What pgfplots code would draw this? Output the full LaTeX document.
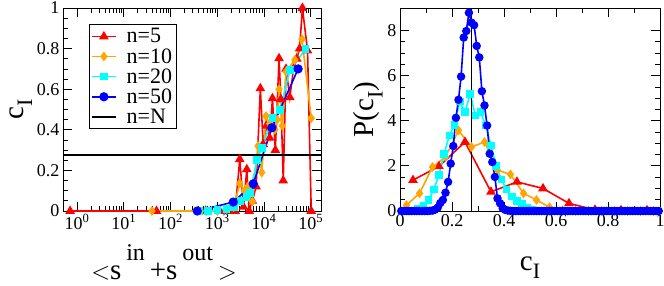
\documentclass[border=0pt]{standalone}
\usepackage{pgfplots}
\pgfplotsset{compat=1.18}
\usepackage{fontspec}
\setmainfont{Liberation Serif}
\definecolor{gorange}{RGB}{255,165,0}
\definecolor{gcyan}{RGB}{0,255,255}
\definecolor{gblue}{RGB}{0,0,255}
\definecolor{gred}{RGB}{255,0,0}
\begin{document}
\begin{tikzpicture}
\pgfplotsset{
  every axis/.append style={
    scale only axis, axis line style={line width=0.9pt},
    tick style={line width=0.8pt, black},
    major tick length=9pt, minor tick length=5pt,
    tick align=inside,
    /pgf/number format/assume math mode=true,
    tick label style={font=\fontsize{18}{18}\selectfont},
    label style={font=\fontsize{29}{29}\selectfont},
  },
}
\begin{axis}[
  at={(0pt,0pt)}, anchor=south west,
  width=258pt, height=203pt,
  xmode=log, xmin=0.5, xmax=1.65e5,
  ymin=0, ymax=1,
  xtick={1,10,100,1000,10000,100000},
  xticklabels={10\textsuperscript{0},10\textsuperscript{1},10\textsuperscript{2},10\textsuperscript{3},10\textsuperscript{4},10\textsuperscript{5}},
  ytick={0,0.2,0.4,0.6,0.8,1},
  yticklabels={0,0.2,0.4,0.6,0.8,1},
  minor y tick num=3,
  xlabel={$<$s\,\raisebox{0.65em}{\fontsize{24}{24}\selectfont in}\,+s\,\raisebox{0.65em}{\fontsize{24}{24}\selectfont out}\,$>$},
  ylabel={c\raisebox{-0.3em}{\fontsize{22}{22}\selectfont I}},
  xlabel style={at={(axis description cs:0.5,0)}, anchor=base, yshift=-68pt, xshift=-28pt},
  ylabel style={yshift=-2pt},
  legend cell align=left,
  legend style={at={(0.1,0.92)}, anchor=north west, font=\fontsize{22}{22}\selectfont,
    draw=black, line width=0.6pt, inner sep=2pt,
    nodes={inner sep=2pt}, row sep=0pt},
  legend image code/.code={\draw[mark repeat=2,mark phase=2] plot coordinates {(0pt,0pt) (12pt,0pt) (24pt,0pt)};\path (32pt,0pt);},
]
\addplot[gred, line width=1.6pt, mark=triangle*, mark size=4pt] coordinates {
(0.71,0) (50,0) (560,0) (1120,0) (1780,0) (2400,0) (3020,0.255) (3630,0.02)
(4270,0.205) (4790,0) (5620,0.05) (6760,0.12) (8320,0.604) (9550,0.33)
(11200,0.42) (13200,0.36) (15100,0.555) (17400,0.30) (20900,0.752) (22900,0.55)
(25700,0.15) (29500,0.70) (35500,0.56) (42700,0.70) (50100,0.75) (57500,0.80)
(66100,1.0) (85100,0.79) (102000,0)
};
\addlegendentry{n=5}
\addplot[gorange, line width=1.6pt, mark=diamond*, mark size=3.6pt] coordinates {
(40,0) (590,0) (1000,0) (1580,0.01) (2240,0.02) (3020,0.136) (3800,0.10)
(4470,0.12) (5620,0.046) (7410,0.32) (8910,0.19) (11000,0.468) (13200,0.43)
(17000,0.40) (19000,0.45) (20900,0.60) (24500,0.42) (29500,0.686) (45700,0.745)
(64600,0.846) (102000,0.457)
};
\addlegendentry{n=10}
\addplot[gcyan, line width=1.6pt, mark=square*, mark size=3pt] coordinates {
(400,0) (630,0) (1000,0.005) (1580,0.01) (2240,0.02) (3160,0.05) (4170,0.07)
(5010,0.09) (7080,0.25) (8900,0.31) (15100,0.457) (21900,0.497) (35500,0.695)
(77600,0.797)
};
\addlegendentry{n=20}
\addplot[gblue, line width=1.6pt, mark=*, mark size=3.8pt] coordinates {
(372,0) (2190,0.044) (5870,0.134) (14700,0.41) (53500,0.70)
};
\addlegendentry{n=50}
\addplot[black, line width=1.5pt] coordinates {(0.5,0.275) (1.65e5,0.275)};
\addlegendentry{n=N}
\end{axis}

\begin{axis}[
  at={(337pt,0pt)}, anchor=south west,
  width=260pt, height=203pt,
  xmin=0, xmax=1, ymin=0, ymax=9,
  xtick={0,0.2,0.4,0.6,0.8,1},
  xticklabels={0,0.2,0.4,0.6,0.8,1},
  minor x tick num=1,
  ytick={0,2,4,6,8},
  minor y tick num=3,
  xlabel={c\raisebox{-0.3em}{\fontsize{22}{22}\selectfont I}},
  ylabel={P(c\raisebox{-0.3em}{\fontsize{22}{22}\selectfont I})},
  xlabel style={at={(axis description cs:0.5,0)}, anchor=base, yshift=-59pt},
  ylabel style={yshift=-2pt},
]
\addplot[gred, line width=1.6pt, mark=triangle*, mark size=4pt] coordinates {
(0.05,1.37) (0.15,1.98) (0.25,3.06) (0.35,0.85) (0.45,1.29) (0.55,1.0)
(0.65,0.34) (0.75,0.05) (0.85,0.03) (0.95,0.03)
};
\addplot[gorange, line width=1.6pt, mark=diamond*, mark size=3.6pt] coordinates {
(0.025,0.26) (0.075,0.78) (0.125,1.95) (0.175,2.4) (0.225,3.57) (0.275,2.84)
(0.325,3.06) (0.375,1.81) (0.425,1.62) (0.475,0.78) (0.525,0.49) (0.575,0.17)
(0.625,0.03) (0.675,0.01) (0.725,0) (0.775,0) (0.825,0) (0.875,0) (0.925,0) (0.975,0)
};
\addplot[gcyan, line width=1.6pt, mark=square*, mark size=3pt] coordinates {
(0.01,0) (0.03,0) (0.05,0.02) (0.07,0.08) (0.09,0.25) (0.11,0.5) (0.13,0.95)
(0.15,1.6) (0.17,2.54) (0.19,3.35) (0.21,3.8) (0.23,4.85) (0.25,4.38) (0.27,5.19)
(0.29,4.23) (0.31,4.38) (0.33,3.79) (0.35,2.9) (0.37,2.0) (0.39,1.4) (0.41,0.95)
(0.43,0.65) (0.45,0.45) (0.47,0.3) (0.49,0.15) (0.51,0.07) (0.53,0.03)
(0.55,0) (0.57,0) (0.59,0) (0.61,0) (0.63,0) (0.65,0) (0.67,0) (0.69,0) (0.71,0)
(0.73,0) (0.75,0) (0.77,0) (0.79,0) (0.81,0) (0.83,0) (0.85,0) (0.87,0) (0.89,0)
(0.91,0) (0.93,0) (0.95,0) (0.97,0) (0.99,0)
};
\addplot[gblue, line width=1.6pt, mark=*, mark size=3.4pt] coordinates {
(0.005,0) (0.015,0) (0.025,0) (0.035,0) (0.045,0) (0.055,0) (0.065,0) (0.075,0)
(0.085,0) (0.095,0) (0.105,0) (0.115,0.01) (0.125,0.02) (0.135,0.06) (0.145,0.15)
(0.155,0.35) (0.165,0.49) (0.175,0.81) (0.185,1.29) (0.195,2.10) (0.205,2.88)
(0.215,4.13) (0.225,4.93) (0.235,5.96) (0.245,7.69) (0.255,7.98) (0.265,8.79)
(0.275,8.35) (0.285,8.24) (0.295,7.32) (0.305,6.81) (0.315,5.31) (0.325,4.68)
(0.335,3.79) (0.345,2.54) (0.355,2.17) (0.365,1.51) (0.375,0.56) (0.385,0.34)
(0.395,0.12) (0.405,0.05) (0.415,0.02) (0.425,0.01) (0.435,0) (0.445,0) (0.455,0)
(0.465,0) (0.475,0) (0.485,0) (0.495,0) (0.505,0) (0.515,0) (0.525,0) (0.535,0)
(0.545,0) (0.555,0) (0.565,0) (0.575,0) (0.585,0) (0.595,0) (0.605,0) (0.615,0)
(0.625,0) (0.635,0) (0.645,0) (0.655,0) (0.665,0) (0.675,0) (0.685,0) (0.695,0)
(0.705,0) (0.715,0) (0.725,0) (0.735,0) (0.745,0) (0.755,0) (0.765,0) (0.775,0)
(0.785,0) (0.795,0) (0.805,0) (0.815,0) (0.825,0) (0.835,0) (0.845,0) (0.855,0)
(0.865,0) (0.875,0) (0.885,0) (0.895,0) (0.905,0) (0.915,0) (0.925,0) (0.935,0)
(0.945,0) (0.955,0) (0.965,0) (0.975,0) (0.985,0) (0.995,0)
};
\addplot[black, line width=1.6pt] coordinates {(0.275,0) (0.275,9)};
\end{axis}
\pgfresetboundingbox
\path[use as bounding box] (-63pt,-74pt) rectangle (601pt,211pt);
\end{tikzpicture}
\end{document}
